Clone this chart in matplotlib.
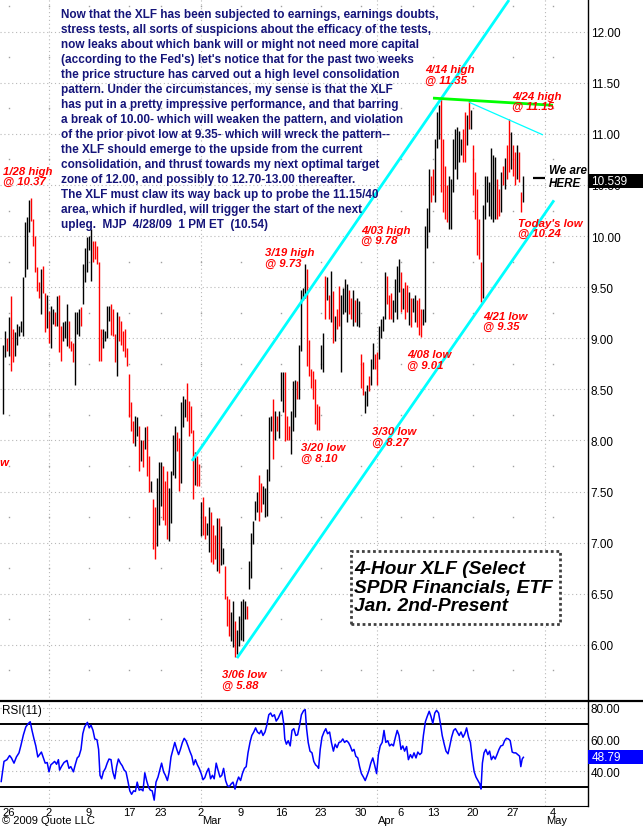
import numpy as np
import matplotlib
matplotlib.use('Agg')
import matplotlib.pyplot as plt
import matplotlib.transforms as mtransforms
from matplotlib.patches import Rectangle
from matplotlib.lines import Line2D
from matplotlib.ticker import FormatStrFormatter

plt.rcParams['font.family'] = ['Liberation Sans', 'DejaVu Sans']

# 4-hour bars, 4 per trading day, first bar = Jan 23 (index 3 = Jan 26 open)
highs = [8.93, 9.07, 9.00, 9.21, 9.41, 9.09, 9.06, 9.14, 9.12, 9.17,
         9.60, 10.14, 10.19, 10.35, 10.37, 10.17, 10.00, 9.70, 9.55, 9.68,
         9.71, 9.44, 9.42, 9.27, 9.32, 9.29, 9.26, 9.41, 9.42, 9.12,
         9.16, 9.17, 9.34, 9.17, 8.97, 8.95, 9.26, 9.26, 9.29, 9.31,
         9.73, 9.88, 9.99, 10.00, 10.07, 9.95, 9.95, 9.90, 9.75, 9.09,
         9.09, 9.07, 9.32, 9.32, 9.34, 9.29, 9.04, 9.26, 9.22, 9.17,
         9.07, 9.09, 8.90, 8.65, 8.38, 8.19,
         8.24, 8.23, 8.14, 8.00, 8.00, 8.13, 8.14, 7.85, 7.60, 7.43,
         7.35, 7.63, 7.79, 7.79, 7.75, 7.60, 7.70, 7.53, 7.70, 8.05,
         8.14, 8.08, 8.02, 8.38, 8.43, 8.41, 8.56, 8.39, 8.34, 8.10,
         7.89, 7.85, 7.77, 7.40, 7.45, 7.26, 7.19, 7.35, 7.30, 7.17,
         7.07, 7.24, 7.24, 7.16, 6.95, 6.77, 6.48, 6.45, 6.32, 6.43,
         6.23, 6.14, 6.28, 6.43, 6.45, 6.43, 6.38, 6.82, 7.09, 7.21,
         7.41, 7.50, 7.66, 7.58, 7.55,
         7.53, 7.72, 8.23, 8.24, 8.41, 8.29, 8.24, 8.29, 8.67, 8.67,
         8.67, 8.24, 8.14, 8.29, 8.58, 8.59, 8.58, 8.93, 9.47, 9.49,
         9.73, 9.68, 8.98, 8.70, 8.68, 8.60, 8.36, 8.34, 8.93, 9.05,
         9.61, 9.60, 9.42, 9.66, 9.46, 9.22, 9.29, 9.51, 9.42, 9.49,
         9.58, 9.53, 9.47, 9.39, 9.47, 9.37, 9.39, 9.36, 8.85, 8.77,
         8.48, 8.54, 8.63, 8.80, 8.95, 8.85, 8.87, 9.12, 9.19, 9.22,
         9.65, 9.61, 9.42, 9.44, 9.37,
         9.58, 9.71, 9.78, 9.65, 9.49, 9.55, 9.52, 9.45, 9.39, 9.39,
         9.42, 9.37, 9.39, 9.29, 9.29, 10.10, 10.27, 10.66, 10.59, 10.66,
         10.95, 11.21, 11.28, 11.35, 10.95, 10.69, 10.50, 10.59, 10.56, 10.95,
         11.05, 11.07, 11.03, 10.95, 11.05, 11.21, 11.18, 11.33, 11.23, 10.89,
         10.63, 10.46, 10.17, 9.75, 10.30, 10.59, 10.59, 10.53, 10.86, 10.79,
         10.77, 10.56, 10.46, 10.63, 10.69, 10.76, 10.89, 11.15, 11.02, 10.89,
         10.82, 10.89, 10.82, 10.43, 10.59]
lows = [8.26, 8.82, 8.88, 8.83, 8.68, 8.77, 8.83, 8.93, 9.02, 9.06,
        9.02, 9.60, 9.68, 10.04, 10.15, 9.90, 9.65, 9.46, 9.39, 9.24,
        9.44, 9.06, 9.10, 8.95, 8.90, 9.14, 9.12, 9.12, 8.87, 8.78,
        8.97, 9.00, 8.92, 8.90, 8.88, 8.77, 8.54, 9.04, 9.02, 9.12,
        9.34, 9.55, 9.65, 9.86, 9.56, 9.75, 9.78, 9.73, 8.78, 8.78,
        8.90, 8.97, 9.00, 9.17, 9.03, 9.02, 8.77, 8.63, 8.97, 8.93,
        8.88, 8.82, 8.73, 8.23, 8.09, 7.97,
        7.95, 8.04, 7.70, 7.80, 7.74, 7.92, 7.65, 7.50, 7.50, 6.94,
        6.84, 6.97, 7.17, 7.36, 7.22, 7.17, 7.04, 7.02, 7.19, 7.66,
        7.63, 7.90, 7.51, 7.58, 8.13, 8.23, 8.19, 8.04, 8.07, 7.43,
        7.56, 7.55, 7.55, 7.06, 7.07, 7.04, 7.07, 6.91, 6.81, 6.79,
        6.84, 6.72, 6.70, 6.78, 6.79, 6.45, 6.18, 6.09, 6.04, 5.98,
        5.88, 5.91, 5.99, 6.05, 6.04, 6.25, 6.25, 6.55, 6.65, 6.99,
        7.22, 7.30, 7.21, 7.30, 7.38,
        7.25, 7.26, 7.60, 8.09, 7.82, 8.00, 8.09, 8.02, 8.39, 8.28,
        7.99, 8.00, 8.00, 7.87, 8.09, 8.23, 8.41, 8.41, 8.88, 9.37,
        9.39, 8.73, 8.63, 8.51, 8.41, 8.16, 8.10, 8.10, 8.70, 8.67,
        9.19, 9.37, 9.19, 9.16, 8.95, 8.97, 9.09, 9.12, 8.67, 9.24,
        9.26, 9.16, 9.24, 9.19, 9.12, 9.16, 9.12, 9.11, 8.51, 8.44,
        8.27, 8.34, 8.48, 8.54, 8.70, 8.70, 8.54, 8.80, 9.00, 9.07,
        9.19, 9.34, 9.19, 9.19, 9.16,
        9.26, 9.19, 9.45, 9.26, 9.29, 9.19, 9.26, 9.13, 9.11, 9.26,
        9.16, 9.11, 9.03, 9.01, 9.13, 9.16, 9.88, 10.04, 10.33, 10.40,
        10.33, 10.86, 10.95, 10.43, 10.24, 10.17, 10.14, 10.07, 10.07, 10.43,
        10.66, 10.56, 10.72, 10.79, 10.72, 10.72, 10.89, 11.05, 11.05, 10.40,
        10.17, 9.81, 9.78, 9.35, 9.39, 10.17, 10.33, 10.20, 10.17, 10.14,
        10.17, 10.17, 10.20, 10.24, 10.50, 10.46, 10.56, 10.63, 10.66, 10.59,
        10.50, 10.56, 10.53, 10.24, 10.33]
bar_colors = ("kkrkrrkkkk" "kkkkrrrrrk" "rrkrkkrkrr" "kkkrrrkkkr" "kkkkkrrrrr" "kkkkrrrkrr" "rrrrrr"
              "kkrkrkrrkr" "rkkkrrrkkk" "krrkkkrrrr" "krrkrrkkrr" "rkrkkrrrkk" "rkkkkkrkkk" "kkrrk"
              "kkkkrkrkkk" "rrrkkkrkkk" "krrrrrrrkk" "rkrkrkrrkk" "kkrrkrkkrr" "kkrkkrrkkk" "krrrk"
              "kkkrkrrkrk" "krrrkkkkrr" "kkkrrrrkkk" "kkkkrrkrkr" "rrrrkkkkkk" "krrkrkrrkr" "rkrrk")
last_price = 10.539

# RSI(11) trace (bar position, value)
rsi_pos = [-0.9, 0.5, 2.0, 3.3, 4.2, 5.5, 6.7, 8.0, 8.9, 10.2, 11.4, 12.7, 13.6, 14.5, 15.5, 16.4,
           17.4, 18.3, 19.2, 20.2, 21.1, 22.1, 23.0, 23.9, 24.9, 25.8, 26.8, 27.7, 28.3, 29.2, 30.5,
           32.0, 33.0, 33.9, 35.2, 36.1, 37.1, 38.0, 39.0, 39.9, 40.8, 42.2, 43.1, 44.0, 45.0, 45.9,
           47.0, 47.8, 48.5, 49.3, 50.2, 51.2, 52.1, 53.0, 54.0, 54.9, 55.9, 56.8, 57.7, 58.7, 59.6,
           60.6, 61.5, 62.4, 63.4, 64.3, 65.3, 66.2, 67.1, 68.1, 69.0, 70.0, 70.9, 71.8, 72.8, 73.7,
           74.6, 75.6, 76.5, 77.5, 78.4, 79.3, 80.3, 81.2, 82.2, 83.1, 84.0, 85.0, 85.9, 86.9, 87.8,
           88.7, 89.7, 90.6, 91.5, 92.5, 93.4, 94.4, 95.3, 96.2, 97.2, 98.1, 99.1, 100.0, 100.9, 101.9,
           102.8, 103.8, 104.7, 105.6, 106.6, 107.5, 108.5, 109.4, 110.3, 111.3, 112.2, 113.1, 114.1,
           115.0, 116.0, 116.9, 117.8, 118.8, 119.7, 120.7, 121.6, 122.5, 123.5, 124.4, 125.4, 126.3,
           127.2, 128.2, 129.1, 130.0, 131.0, 131.9, 132.9, 133.8, 134.7, 135.7, 136.6, 137.6, 138.5,
           139.4, 140.4, 140.9, 141.7, 142.6, 143.6, 144.5, 145.4, 146.4, 147.3, 148.3, 149.2, 150.3,
           151.1, 151.8, 152.6, 153.5, 154.5, 155.4, 156.3, 157.3, 157.8, 158.6, 159.5, 160.5, 161.4,
           162.3, 163.3, 164.2, 165.2, 166.1, 167.0, 168.0, 168.9, 169.9, 170.8, 171.7, 172.7, 173.6,
           174.6, 175.5, 176.4, 177.4, 178.3, 179.2, 180.2, 181.1, 182.1, 183.0, 183.9, 184.9, 185.8,
           186.8, 187.7, 188.6, 189.6, 190.5, 191.4, 192.4, 193.3, 194.3, 195.2, 196.2, 197.1, 198.0,
           199.0, 199.9, 200.8, 201.8, 202.7, 203.7, 204.6, 205.5, 206.5, 207.4, 208.4, 209.3, 210.2,
           211.2, 212.1, 213.1, 214.0, 214.9, 215.9, 216.8, 217.8, 218.7, 219.6, 220.6, 221.5, 222.5,
           223.4, 224.3, 225.3, 226.2, 227.1, 228.1, 229.0, 230.0, 230.9, 231.8, 232.8, 233.7, 234.7,
           235.6, 236.5, 237.5, 238.4, 239.0, 239.7, 240.5, 241.4, 242.4, 243.3, 244.2, 245.2, 246.1,
           247.0, 248.0, 248.9, 249.9, 250.8, 251.7, 252.7, 253.6, 254.6, 255.5, 256.4, 257.4, 258.3,
           258.9, 259.6, 260.2]
rsi_val = [33.5, 46.2, 47.3, 49.9, 48.4, 45.1, 49.0, 51.6, 56.0, 63.0, 68.0, 70.2, 71.3, 65.8, 60.4, 56.0,
           49.0, 50.5, 52.1, 48.4, 45.1, 45.5, 39.6, 44.0, 45.1, 46.2, 44.4, 47.3, 40.7, 42.9, 45.5,
           46.8, 41.8, 42.9, 39.6, 44.0, 48.4, 49.5, 53.8, 63.7, 68.0, 70.9, 67.4, 69.1, 65.8, 60.4,
           59.9, 53.8, 37.4, 35.2, 39.6, 41.8, 45.1, 47.7, 47.3, 39.6, 35.2, 42.9, 47.7, 45.1, 43.5,
           40.7, 39.6, 34.1, 27.6, 25.4, 27.6, 27.2, 33.1, 28.0, 28.7, 27.6, 39.0, 34.1, 29.8, 28.0,
           27.6, 21.7, 33.1, 36.3, 40.7, 45.1, 39.6, 37.4, 34.1, 39.6, 49.0, 53.8, 58.2, 53.8, 50.5,
           53.8, 58.2, 60.8, 59.3, 56.0, 52.7, 49.5, 44.0, 47.3, 44.0, 41.8, 38.5, 34.6, 35.9, 39.6,
           41.8, 35.2, 37.4, 35.2, 45.1, 40.7, 36.3, 37.4, 41.8, 34.1, 30.9, 30.2, 32.0,
           33.1, 28.7, 33.1, 36.3, 34.1, 38.5, 41.8, 42.9, 51.6, 58.2, 62.6, 64.8, 67.4,
           64.8, 63.7, 65.8, 62.6, 64.8, 69.1, 75.7, 76.8, 74.6, 75.7, 71.7, 73.5, 76.1,
           78.3, 69.6, 60.4, 57.1, 59.3, 56.0, 65.8, 66.9, 62.6, 63.0, 69.1, 75.7, 78.3,
           79.0, 66.9, 58.2, 52.7, 51.6, 46.2, 44.0, 42.9, 41.8, 53.8, 61.5, 64.8, 66.9,
           63.7, 64.8, 58.2, 52.7, 57.1, 54.9, 58.2, 58.6, 60.4, 58.2, 59.3, 58.2, 56.0,
           52.7, 53.8, 49.5, 48.4, 42.9, 38.5, 36.3, 34.1, 37.4, 40.7, 45.1, 48.4, 44.0,
           38.5, 50.5, 56.0, 58.2, 65.8, 58.2, 59.3, 56.0, 57.1, 56.0, 61.5, 65.8, 62.6,
           53.8, 56.0, 52.7, 55.6, 47.3, 50.5, 48.4, 51.6, 48.4, 52.1, 50.5, 51.6, 62.6,
           71.3, 74.6, 77.9, 74.6, 70.2, 76.8, 78.5, 76.8, 70.2, 62.6, 57.1, 52.7, 51.0,
           56.0, 61.5, 65.8, 66.9, 64.8, 62.6, 64.8, 61.5, 63.7, 67.4, 61.5, 58.2, 47.3,
           39.6, 36.3, 34.1, 32.0, 28.7, 45.1, 51.6, 53.8, 50.5, 52.7, 47.3, 49.5, 47.7,
           50.5, 53.8, 56.0, 56.4, 59.3, 60.8, 60.4, 59.3, 52.1, 51.6, 51.6, 50.5, 49.5,
           42.9, 47.7, 48.79]
last_rsi = 48.79

# analyst trend lines (bar position, price)
channel_top = [(94.5, 7.80), (253.0, 12.31)]
channel_bottom = [(117.0, 5.87), (275.5, 10.35)]
resistance = [(215.0, 11.35), (275.0, 11.28)]
down_line = [(233.0, 11.31), (270.0, 10.99)]
here_line = [(265.0, 10.57), (271.0, 10.57)]

week_labels = ['26', '2', '9', '17', '23', '2', '9', '16', '23', '30', '6', '13', '20', '27', '4']
week_dates = ['2009-01-26', '2009-02-02', '2009-02-09', '2009-02-17', '2009-02-23', '2009-03-02',
              '2009-03-09', '2009-03-16', '2009-03-23', '2009-03-30', '2009-04-06', '2009-04-13',
              '2009-04-20', '2009-04-27', '2009-05-04']
month_labels = ['Mar', 'Apr', 'May']
month_dates = ['2009-03-02', '2009-04-01', '2009-05-01']
grid_dates = ['2009-02-02', '2009-03-02', '2009-04-01', '2009-05-01']
holidays = ['2009-02-16', '2009-04-10']

comment = [
    "Now that the XLF has been subjected to earnings, earnings doubts,",
    "stress tests, all sorts of suspicions about the efficacy of the tests,",
    "now leaks about which bank will or might not need more capital",
    "(according to the Fed's) let's notice that for the past two weeks",
    "the price structure has carved out a high level consolidation",
    "pattern. Under the circumstances, my sense is that the XLF",
    "has put in a pretty impressive performance, and that barring",
    "a break of 10.00- which will weaken the pattern, and violation",
    "of the prior pivot low at 9.35- which will wreck the pattern--",
    "the XLF should emerge to the upside from the current",
    "consolidation, and thrust towards my next optimal target",
    "zone of 12.00, and possibly to 12.70-13.00 thereafter.",
    "The XLF must claw its way back up to probe the 11.15/40",
    "area, which if hurdled, will trigger the start of the next",
    "upleg.  MJP  4/28/09  1 PM ET  (10.54)",
]


def bar_index(date):
    d = np.busday_count('2009-01-26', date, holidays=holidays)
    return 3 + 4 * d


W, H = 643, 828
fig = plt.figure(figsize=(W / 100, H / 100), dpi=100)
ax = fig.add_axes([0, 126 / H, 588 / W, 702 / H])
ax2 = fig.add_axes([0, 21 / H, 588 / W, 105 / H])

idx = np.arange(len(highs))
cols = ['#000000' if c == 'k' else '#ff0000' for c in bar_colors]

# grid
grid_kw = dict(color='#b8b8b8', lw=0.8, dashes=(1, 2.5), zorder=0)
for p in np.arange(6.0, 12.01, 0.5):
    ax.axhline(p, **grid_kw)
for g in grid_dates:
    ax.axvline(bar_index(g), **grid_kw)
    ax2.axvline(bar_index(g), **grid_kw)
for r in [40, 60, 80]:
    ax2.axhline(r, **grid_kw)
wk = [bar_index(d) for d in week_dates]
qx, qy = np.meshgrid(wk, np.arange(5.75, 12.3, 0.5))
ax.plot(qx.ravel(), qy.ravel(), ls='none', marker='s', ms=1.0, mew=0, color='#a0a0a0', zorder=0)

# price bars
ax.vlines(idx, lows, highs, colors=cols, lw=1.0, zorder=3)

# trend lines
for pts, c, lw in [(channel_top, '#00ffff', 2.0), (channel_bottom, '#00ffff', 2.0),
                   (resistance, '#00ff00', 2.0), (down_line, '#00ffff', 0.9),
                   (here_line, '#000000', 1.6)]:
    xs, ys = zip(*pts)
    ax.plot(xs, ys, color=c, lw=lw, solid_capstyle='butt', zorder=4)

ax.set_xlim(-1.5, 292.5)
ax.set_ylim(5.45, 12.32)
ax2.set_xlim(-1.5, 292.5)
ax2.set_ylim(18, 84.4)

for a in (ax, ax2):
    for s in ('left', 'top'):
        a.spines[s].set_visible(False)
    a.spines['right'].set_linewidth(1.0)
    a.yaxis.tick_right()
    a.tick_params(axis='y', length=0, pad=2, labelsize=8.5)
    a.yaxis.set_major_formatter(FormatStrFormatter('%.2f'))
ax.spines['bottom'].set_visible(False)
ax.set_xticks([])
ax.set_yticks(np.arange(6.0, 12.01, 0.5))

# annotations
red = dict(color='#ff0000', fontsize=8.2, fontweight='bold', fontstyle='italic',
           ha='left', va='top', linespacing=1.05, zorder=6)
ax.text(0.0, 10.69, "1/28 high\n@ 10.37", **red)
ax.text(131.0, 9.89, "3/19 high\n@ 9.73", **red)
ax.text(149.0, 7.98, "3/20 low\n@ 8.10", **red)
ax.text(179.0, 10.11, "4/03 high\n@ 9.78", **red)
ax.text(184.5, 8.14, "3/30 low\n@ 8.27", **red)
ax.text(202.0, 8.89, "4/08 low\n@ 9.01", **red)
ax.text(240.0, 9.27, "4/21 low\n@ 9.35", **red)
ax.text(211.0, 11.68, "4/14 high\n@ 11.35", **red)
ax.text(254.5, 11.42, "4/24 high\n@ 11.15", **red)
ax.text(257.5, 10.18, "Today's low\n@ 10.24", **red)
ax.text(109.5, 5.76, "3/06 low\n@ 5.88", **red)
ax.text(3.5, 7.84, "low", **{**red, 'ha': 'right'})
ax.text(273.0, 10.58, "We are\nHERE", color='black', fontsize=8.4, fontweight='bold',
        fontstyle='italic', ha='left', va='center', linespacing=1.1, zorder=6)

# commentary
for k, line in enumerate(comment):
    fig.text(61 / W, 1 - (15 + 15 * k) / H, line, color='#15157a', fontsize=8.45,
             fontweight='bold', ha='left', va='center', zorder=7)

# title box
fig.patches.append(Rectangle((351 / W, 1 - 625 / H), 209 / W, 73 / H, transform=fig.transFigure,
                             facecolor='white', edgecolor='#404040', lw=2.0, ls=(0, (1, 1)),
                             zorder=5))
fig.text(354 / W, 1 - 588 / H, "4-Hour XLF (Select\nSPDR Financials, ETF\nJan. 2nd-Present",
         fontsize=13.8, fontweight='bold', fontstyle='italic', ha='left', va='center',
         linespacing=1.12, zorder=8)

# last-value boxes on the right axis
tr = mtransforms.blended_transform_factory(ax.transAxes, ax.transData)
ax.add_patch(Rectangle((1.0, last_price - 0.068), W / 588 - 1.0, 0.137, transform=tr,
                       facecolor='black', edgecolor='none', clip_on=False, zorder=6))
ax.text(1.006, last_price, f"{last_price:.3f}", transform=tr, color='white', fontsize=8.5,
        ha='left', va='center', clip_on=False, zorder=7)

# RSI panel
ax2.plot(rsi_pos, rsi_val, color='#0000ff', lw=1.1, zorder=3)
ax2.axhline(70, color='black', lw=1.4, zorder=2)
ax2.axhline(30, color='black', lw=1.4, zorder=2)
ax2.set_yticks([40, 60, 80])
ax2.text(0.004, 0.915, "RSI(11)", transform=ax2.transAxes, fontsize=8.5, ha='left', va='center')
tr2 = mtransforms.blended_transform_factory(ax2.transAxes, ax2.transData)
ax2.add_patch(Rectangle((1.0, last_rsi - 4.4), W / 588 - 1.0, 8.8, transform=tr2,
                        facecolor='#0000ff', edgecolor='none', clip_on=False, zorder=6))
ax2.text(1.006, last_rsi, f"{last_rsi:.2f}", transform=tr2, color='white', fontsize=8.5,
         ha='left', va='center', clip_on=False, zorder=7)

ax2.set_xticks(wk)
ax2.set_xticklabels(week_labels)
ax2.tick_params(axis='x', length=0, pad=0.5, labelsize=8)
tr3 = mtransforms.blended_transform_factory(ax2.transData, ax2.transAxes)
for m, d in zip(month_labels, month_dates):
    ax2.text(bar_index(d) + 0.5, -0.135, m, transform=tr3, fontsize=8, ha='left', va='center')
fig.text(2 / W, 1 - 821.5 / H, "\u00a9 2009 Quote LLC", fontsize=8, ha='left', va='center')

# panel separator
fig.add_artist(Line2D([0, 1], [126 / H, 126 / H], transform=fig.transFigure, color='black', lw=1.6))

fig.savefig('out.png', dpi=100)
